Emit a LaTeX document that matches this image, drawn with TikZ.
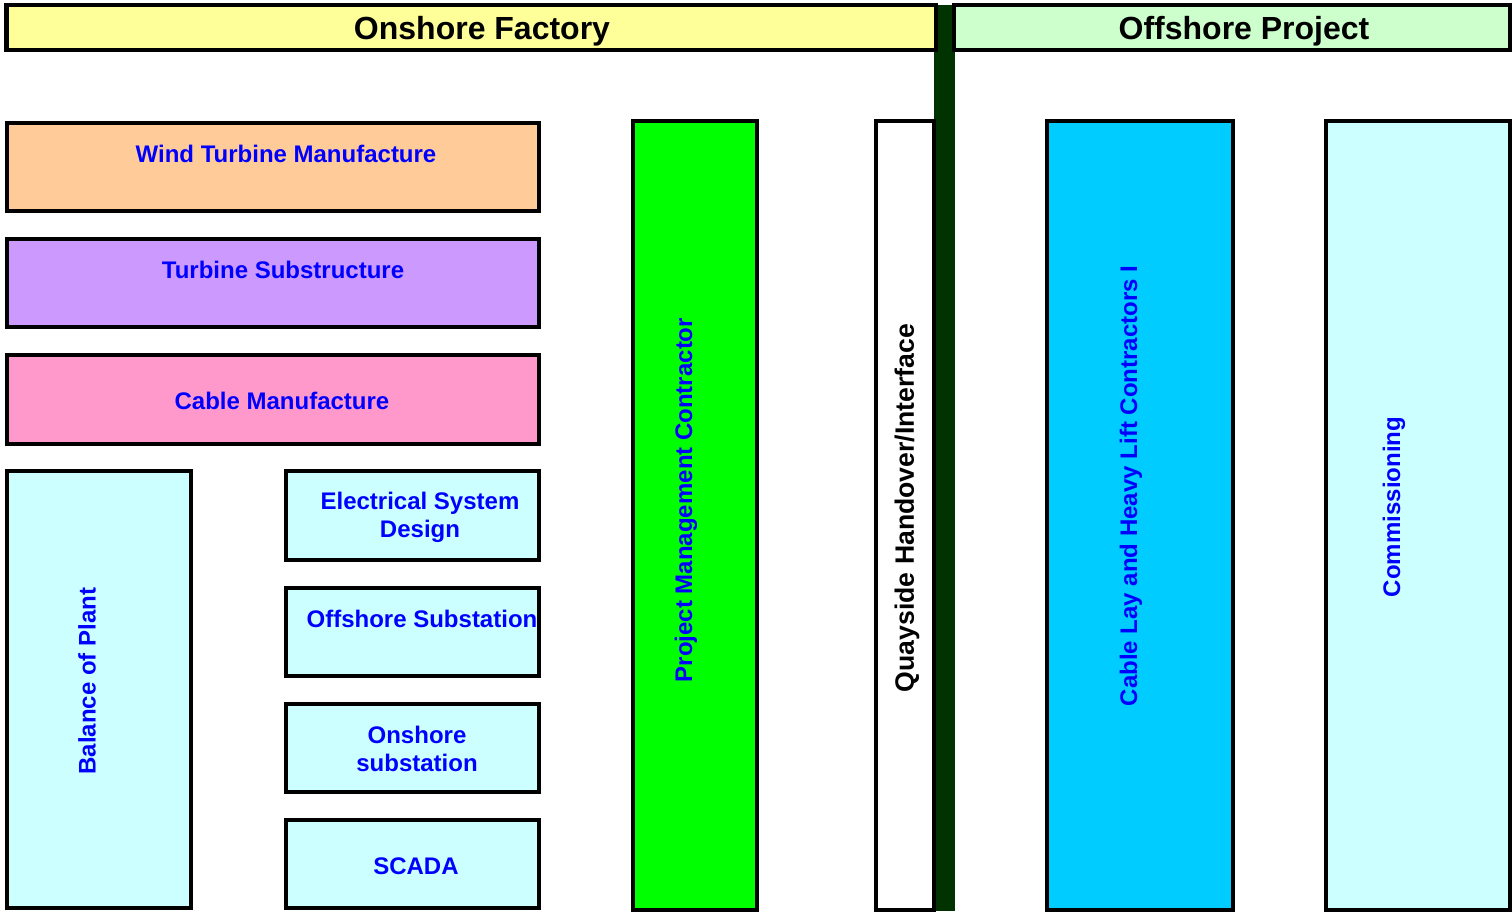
\documentclass[tikz,border=0pt]{standalone}
\usepackage{fontspec}
\setmainfont{Liberation Sans}
\usetikzlibrary{fit}

\definecolor{onshorefill}{HTML}{FFFF99}
\definecolor{offshorefill}{HTML}{CCFFCC}
\definecolor{turbinefill}{HTML}{FFCC99}
\definecolor{substructfill}{HTML}{CC99FF}
\definecolor{cablefill}{HTML}{FF99CC}
\definecolor{paleblue}{HTML}{CCFFFF}
\definecolor{pmcfill}{HTML}{00FF00}
\definecolor{layfill}{HTML}{00CCFF}
\definecolor{divider}{HTML}{003300}

\begin{document}
\begin{tikzpicture}[x=0.5pt, y=-0.5pt,
    box/.style={draw=black, line width=2.1pt, inner sep=0pt, outer sep=0pt},
    lbl/.style={text=blue, font=\fontsize{12}{14}\selectfont\bfseries, align=center, inner sep=0pt},
    head/.style={text=black, font=\fontsize{16}{19}\selectfont\bfseries, inner sep=0pt}]
  \useasboundingbox (0,0) rectangle (1512,914);
  % divider between onshore and offshore
  \fill[divider] (934,5) rectangle (955,911);
  % headers
  \node[box, fill=onshorefill, fit={(6.5,5) (936,50)}] (onshore) {};
  \node[box, fill=offshorefill, fit={(954,5) (1510,50)}] (offshore) {};
  \node[head] (onshoretext) at (482,31) {Onshore Factory};
  \node[head] (offshoretext) at (1244,31) {Offshore Project};
  % onshore boxes
  \node[box, fill=turbinefill, fit={(7,123) (539,211)}] (wtm) {};
  \node[box, fill=substructfill, fit={(7,239) (539,327)}] (ts) {};
  \node[box, fill=cablefill, fit={(7,355) (539,444)}] (cm) {};
  \node[box, fill=paleblue, fit={(7,471) (191,908)}] (bop) {};
  \node[box, fill=paleblue, fit={(286,471) (539,560)}] (esd) {};
  \node[box, fill=paleblue, fit={(286,588) (539,676)}] (oss) {};
  \node[box, fill=paleblue, fit={(286,704) (539,792)}] (ons) {};
  \node[box, fill=paleblue, fit={(286,820) (539,908)}] (scada) {};
  \node[box, fill=pmcfill, fit={(633,121) (757,910)}] (pmc) {};
  \node[box, fill=white, fit={(876,121) (934,910)}] (quay) {};
  % offshore boxes
  \node[box, fill=layfill, fit={(1047,121) (1233,910)}] (lay) {};
  \node[box, fill=paleblue, fit={(1326,121) (1510,910)}] (comm) {};
  % labels
  \node[lbl] (wtmtext) at (286,154) {Wind Turbine Manufacture};
  \node[lbl] (tstext) at (283,270) {Turbine Substructure};
  \node[lbl] (cmtext) at (282,401) {Cable Manufacture};
  \node[lbl] (esdtext) at (420,517) {Electrical System\\Design};
  \node[lbl] (osstext) at (422,619) {Offshore Substation};
  \node[lbl] (onstext) at (417,749) {Onshore\\substation};
  \node[lbl] (scadatext) at (416,866) {SCADA};
  \node[lbl, rotate=90] (boptext) at (87,681) {Balance of Plant};
  \node[lbl, rotate=90] (pmctext) at (686,500) {Project Management Contractor};
  \node[lbl, rotate=90, text=black, font=\fontsize{13.3}{16}\selectfont\bfseries] (quaytext) at (907,508) {Quayside Handover/Interface};
  \node[lbl, rotate=90] (laytext) at (1131,486) {Cable Lay and Heavy Lift Contractors I};
  \node[lbl, rotate=90] (commtext) at (1394,507) {Commissioning};
\end{tikzpicture}
\end{document}
